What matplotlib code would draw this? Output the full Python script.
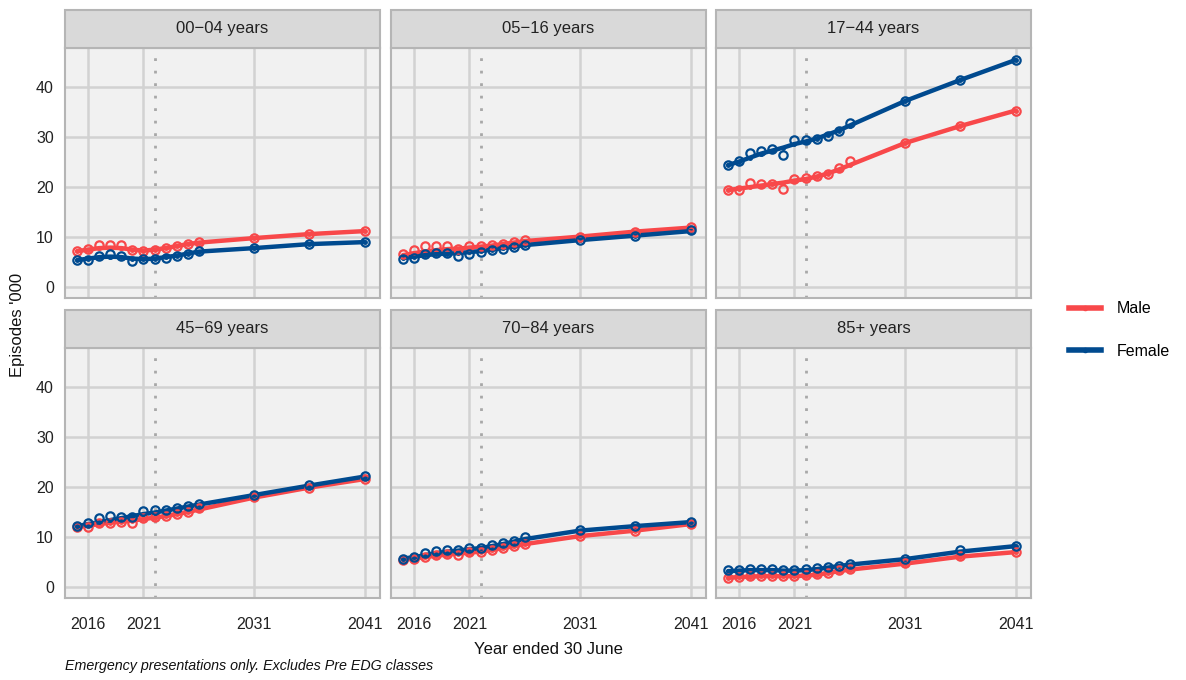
import matplotlib
matplotlib.use("Agg")
import matplotlib.pyplot as plt
from matplotlib.lines import Line2D
from matplotlib.patches import Rectangle

plt.rcParams['font.family'] = ['Liberation Sans', 'DejaVu Sans']

years = [2015, 2016, 2017, 2018, 2019, 2020, 2021, 2022, 2023, 2024, 2025, 2026, 2031, 2036, 2041]
panels = ["00\u221204 years", "05\u221216 years", "17\u221244 years",
          "45\u221269 years", "70\u221284 years", "85+ years"]

# observed / projected points (open circles)
male_pts = {
    panels[0]: [7.1, 7.5, 8.3, 8.3, 8.3, 7.3, 7.1, 7.4, 7.7, 8.2, 8.6, 8.9, 9.7, 10.5, 11.1],
    panels[1]: [6.5, 7.3, 8.2, 8.2, 8.2, 7.6, 8.1, 8.1, 8.3, 8.6, 9.0, 9.3, 10.0, 11.0, 11.9],
    panels[2]: [19.3, 19.3, 20.8, 20.5, 20.5, 19.5, 21.6, 21.8, 22.2, 22.6, 23.7, 25.1, 28.8, 32.1, 35.2],
    panels[3]: [11.9, 12.0, 12.7, 12.7, 13.0, 12.8, 13.7, 13.9, 14.1, 14.5, 15.0, 15.7, 18.0, 19.8, 21.6],
    panels[4]: [5.4, 5.5, 6.0, 6.4, 6.5, 6.4, 6.9, 7.0, 7.3, 7.8, 8.2, 8.6, 10.1, 11.2, 12.6],
    panels[5]: [1.8, 2.0, 2.2, 2.2, 2.2, 2.2, 2.2, 2.3, 2.6, 2.8, 3.3, 3.6, 4.7, 6.2, 6.9],
}
female_pts = {
    panels[0]: [5.3, 5.4, 6.1, 6.5, 6.1, 5.2, 5.5, 5.5, 5.8, 6.2, 6.6, 7.1, 7.7, 8.5, 8.9],
    panels[1]: [5.5, 5.8, 6.6, 6.7, 6.8, 6.1, 6.6, 6.9, 7.3, 7.6, 7.9, 8.3, 9.3, 10.1, 11.3],
    panels[2]: [24.3, 25.1, 26.8, 27.1, 27.5, 26.3, 29.4, 29.4, 29.6, 30.1, 31.1, 32.7, 37.2, 41.3, 45.3],
    panels[3]: [12.1, 12.7, 13.7, 14.2, 13.9, 13.9, 15.2, 15.4, 15.4, 15.8, 16.1, 16.6, 18.3, 20.3, 22.1],
    panels[4]: [5.6, 6.0, 6.7, 7.2, 7.3, 7.4, 7.7, 7.8, 8.3, 8.8, 9.1, 9.9, 11.3, 12.2, 13.0],
    panels[5]: [3.3, 3.4, 3.6, 3.6, 3.6, 3.4, 3.4, 3.5, 3.8, 4.0, 4.2, 4.6, 5.6, 7.3, 8.2],
}
# fitted trend lines
male_fit = {
    panels[0]: [7.1, 7.4, 7.7, 7.8, 7.7, 7.4, 7.2, 7.4, 7.7, 8.1, 8.5, 8.8, 9.7, 10.5, 11.1],
    panels[1]: [6.3, 6.7, 7.0, 7.3, 7.5, 7.6, 7.8, 8.0, 8.2, 8.5, 8.8, 9.1, 10.0, 11.0, 11.8],
    panels[2]: [19.3, 19.6, 19.9, 20.2, 20.5, 20.8, 21.2, 21.5, 22.0, 22.6, 23.4, 24.3, 28.7, 32.1, 35.2],
    panels[3]: [11.9, 12.2, 12.5, 12.8, 13.0, 13.2, 13.5, 13.8, 14.1, 14.5, 14.9, 15.4, 17.8, 19.8, 21.5],
    panels[4]: [5.4, 5.6, 5.9, 6.2, 6.4, 6.6, 6.8, 7.0, 7.3, 7.7, 8.1, 8.5, 10.1, 11.2, 12.5],
    panels[5]: [1.8, 1.9, 2.0, 2.1, 2.1, 2.1, 2.1, 2.2, 2.4, 2.7, 3.1, 3.4, 4.6, 6.0, 6.9],
}
female_fit = {
    panels[0]: [5.3, 5.6, 5.9, 6.0, 5.9, 5.6, 5.5, 5.6, 5.9, 6.2, 6.6, 7.0, 7.7, 8.5, 8.9],
    panels[1]: [5.7, 6.0, 6.3, 6.5, 6.6, 6.7, 6.9, 7.1, 7.4, 7.7, 8.0, 8.3, 9.3, 10.2, 11.1],
    panels[2]: [24.3, 25.0, 25.8, 26.6, 27.2, 27.8, 28.5, 29.0, 29.6, 30.4, 31.2, 32.2, 37.1, 41.3, 45.3],
    panels[3]: [12.1, 12.5, 12.9, 13.3, 13.7, 14.1, 14.5, 14.8, 15.2, 15.6, 16.0, 16.4, 18.3, 20.2, 22.0],
    panels[4]: [5.6, 5.9, 6.3, 6.7, 7.0, 7.2, 7.5, 7.7, 8.1, 8.5, 9.0, 9.5, 11.2, 12.1, 12.9],
    panels[5]: [3.1, 3.2, 3.3, 3.3, 3.3, 3.2, 3.2, 3.3, 3.5, 3.8, 4.1, 4.4, 5.5, 7.0, 8.1],
}

xticks = [2016, 2021, 2031, 2041]
yticks = [0, 10, 20, 30, 40]
cutoff_year = 2022

male_col = "#F8484A"
female_col = "#004A8F"
panel_bg = "#F1F1F1"
grid_col = "#D2D2D2"
border_col = "#B5B5B5"
strip_bg = "#D9D9D9"

fig = plt.figure(figsize=(11.86, 6.8), dpi=100)
W, H = 1186, 680
col_left = [65, 391, 716]
col_w = 315
row_top = [48, 348]
row_h = 250
strip_h = 38

for i, name in enumerate(panels):
    r, c = divmod(i, 3)
    left = col_left[c] / W
    bottom = 1 - (row_top[r] + row_h) / H
    ax = fig.add_axes([left, bottom, col_w / W, row_h / H])
    ax.set_facecolor(panel_bg)
    ax.set_xlim(2013.9, 2042.4)
    ax.set_ylim(-2.27, 47.7)
    ax.set_xticks(xticks)
    ax.set_yticks(yticks)
    ax.grid(True, color=grid_col, linewidth=1.8, zorder=0)
    ax.set_axisbelow(True)
    for s in ax.spines.values():
        s.set_color(border_col)
        s.set_linewidth(1.5)
    ax.tick_params(axis="x", length=0, labelsize=11.5, colors="#222222", pad=14)
    ax.tick_params(axis="y", length=0, labelsize=11.5, colors="#222222", pad=8)
    if c != 0:
        ax.set_yticklabels([])
    if r == 0:
        ax.set_xticklabels([])
    ax.axvline(cutoff_year, color="#A8A8A8", linestyle=(0, (1, 3.5)), linewidth=2, zorder=1)

    for fit, pts, col in [(male_fit, male_pts, male_col), (female_fit, female_pts, female_col)]:
        ax.plot(years, fit[name], color=col, linewidth=3.2, solid_capstyle="round",
                marker="o", markersize=2.5, zorder=3)
        ax.plot(years, pts[name], linestyle="none", marker="o", markersize=6,
                markerfacecolor="none", markeredgecolor=col, markeredgewidth=1.6, zorder=4)

    # strip header
    sb = 1 - row_top[r] / H
    fig.patches.append(Rectangle((left, sb), col_w / W, strip_h / H, transform=fig.transFigure,
                                 facecolor=strip_bg, edgecolor=border_col, linewidth=1.5))
    fig.text(left + col_w / W / 2, sb + strip_h / H / 2, name, ha="center", va="center",
             fontsize=12, color="#222222")

fig.text(18 / W, 1 - 325 / H, "Episodes '000", rotation=90, ha="center", va="center",
         fontsize=12, color="#111111")
fig.text(548 / W, 1 - 650 / H, "Year ended 30 June", ha="center", va="center",
         fontsize=12, color="#111111")
fig.text(65 / W, 1 - 666 / H, "Emergency presentations only. Excludes Pre EDG classes",
         ha="left", va="center", fontsize=10.3, style="italic", color="#111111")

handles = [Line2D([0], [0], color=male_col, linewidth=4, marker="o", markersize=3),
           Line2D([0], [0], color=female_col, linewidth=4, marker="o", markersize=3)]
fig.legend(handles, ["Male", "Female"], loc="center left", bbox_to_anchor=(1058 / W, 1 - 330 / H),
           frameon=False, fontsize=11.5, handlelength=2.0, labelspacing=1.7, handletextpad=1.0,
           borderpad=0.2)

fig.savefig("out.png", dpi=100)
